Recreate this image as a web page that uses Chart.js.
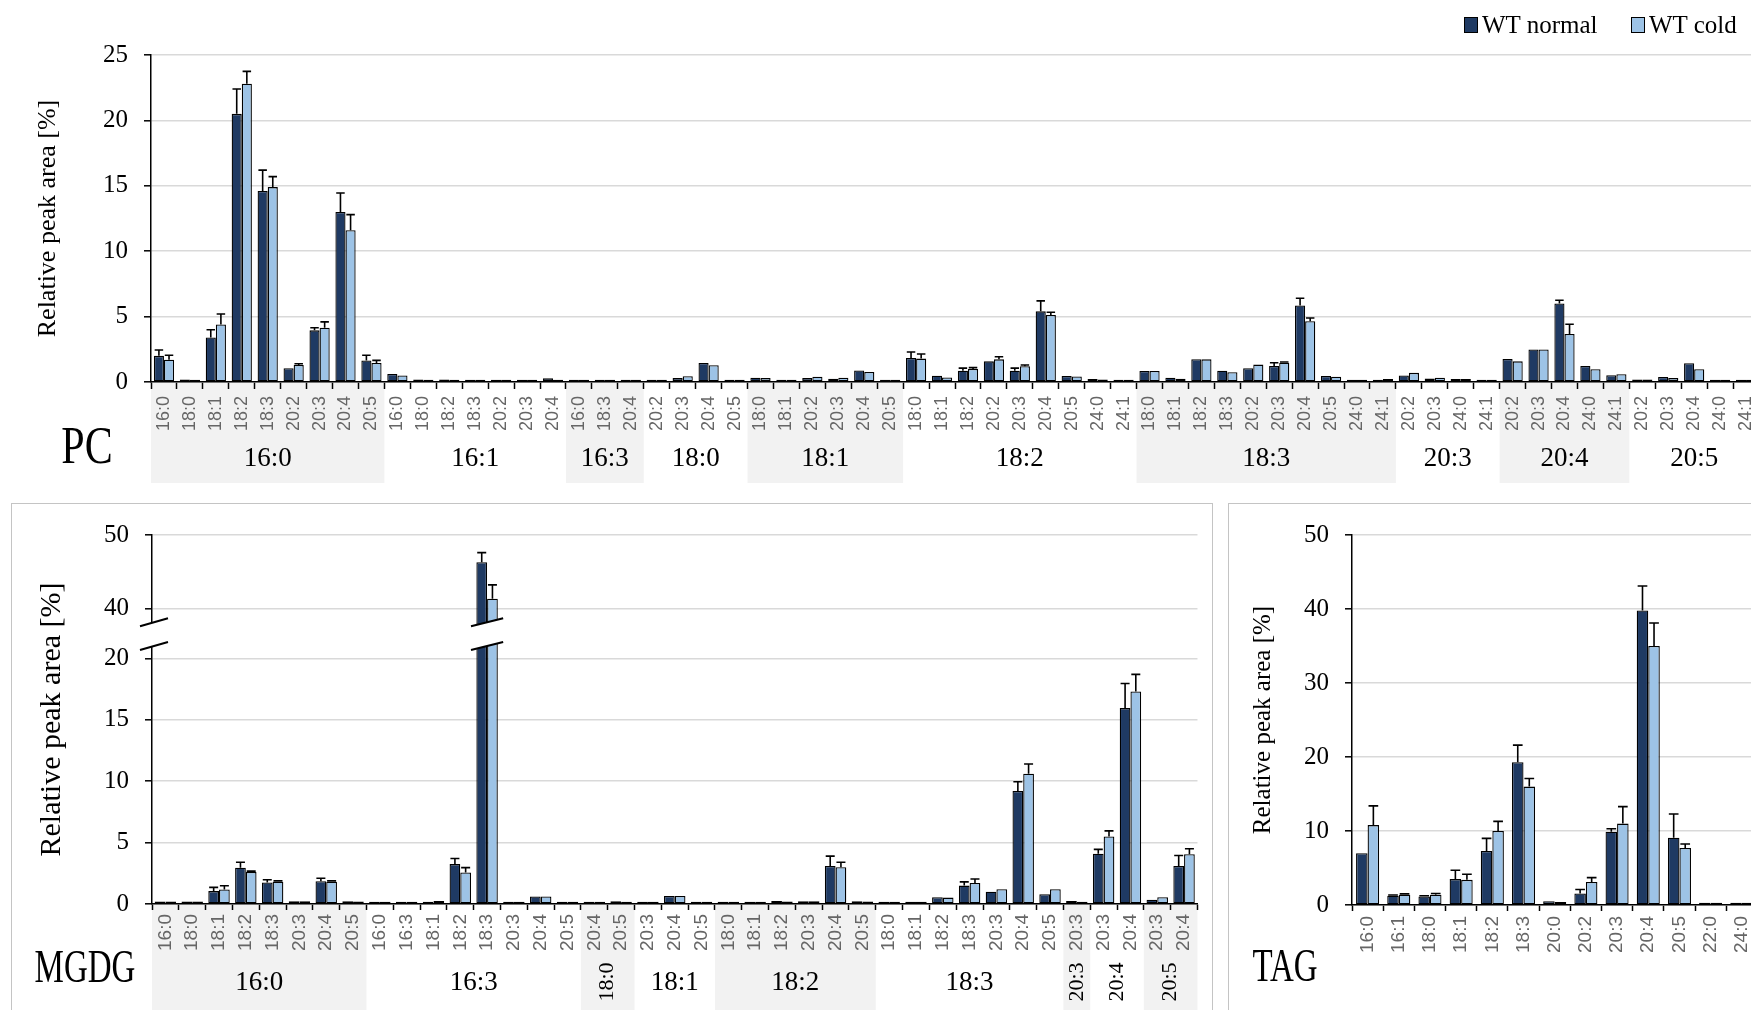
<!DOCTYPE html>
<html>
<head>
<meta charset="utf-8">
<title>Relative peak area – PC, MGDG, TAG</title>
<script src="https://cdn.jsdelivr.net/npm/chart.js@4.4.1/dist/chart.umd.min.js"></script>
<style>
  html, body { margin:0; padding:0; background:#fff; width:1751px; height:1010px; overflow:hidden; }
  .panel-box { position:absolute; border:1px solid #c4c4c4; box-sizing:border-box; }
  .big { position:absolute; font-family:'Liberation Serif','Times New Roman',serif; line-height:1; white-space:nowrap; color:#000; }
  .leg-sw { position:absolute; width:14px; height:16px; border:1.5px solid #000; box-sizing:border-box; }
  .leg-tx { position:absolute; font-family:'Liberation Serif','Times New Roman',serif; font-size:25px; line-height:30px; color:#000; white-space:nowrap; }
  canvas { position:absolute; }
</style>
</head>
<body>
<div class="panel-box" style="left:11px;top:503px;width:1202px;height:600px;"></div>
<div class="panel-box" style="left:1228px;top:503px;width:600px;height:600px;"></div>
<canvas id="pc" width="1780" height="500" style="left:0;top:0;"></canvas>
<canvas id="mgdg" width="1199" height="506" style="left:12px;top:504px;"></canvas>
<canvas id="tag" width="540" height="506" style="left:1230px;top:504px;"></canvas>
<div class="leg-sw" style="left:1464px;top:17px;background:#1f3a63;"></div>
<div class="leg-tx" style="left:1482px;top:10px;">WT normal</div>
<div class="leg-sw" style="left:1631px;top:17px;background:#9dc3e6;"></div>
<div class="leg-tx" style="left:1649px;top:10px;">WT cold</div>
<div class="big" style="left:87px;top:446px;font-size:42px;transform:translate(-50%,-50%) scaleY(1.24);">PC</div>
<div class="big" style="left:85px;top:967px;font-size:33px;transform:translate(-50%,-50%) scaleY(1.4);">MGDG</div>
<div class="big" style="left:1285px;top:967px;font-size:33px;transform:translate(-50%,-50%) scaleY(1.38);">TAG</div>
<script>
// ---------------- DATA ----------------
const seriesNames = ['WT normal', 'WT cold'];

// PC
const pcGroups = ['16:0','16:1','16:3','18:0','18:1','18:2','18:3','20:3','20:4','20:5'];
const pcGroupSizes = [9,7,3,4,6,9,10,4,5,5];
const pcCategories = [
  '16:0','18:0','18:1','18:2','18:3','20:2','20:3','20:4','20:5',
  '16:0','18:0','18:2','18:3','20:2','20:3','20:4',
  '16:0','18:3','20:4',
  '20:2','20:3','20:4','20:5',
  '18:0','18:1','20:2','20:3','20:4','20:5',
  '18:0','18:1','18:2','20:2','20:3','20:4','20:5','24:0','24:1',
  '18:0','18:1','18:2','18:3','20:2','20:3','20:4','20:5','24:0','24:1',
  '20:2','20:3','24:0','24:1',
  '20:2','20:3','20:4','24:0','24:1',
  '20:2','20:3','20:4','24:0','24:1'];
const pcNormal = [
  2.0,0.2,3.4,20.5,14.6,1.05,3.95,13.0,1.65,
  0.62,0.2,0.2,0.18,0.18,0.18,0.28,
  0.18,0.18,0.18,
  0.18,0.3,1.45,0.18,
  0.33,0.18,0.3,0.24,0.88,0.18,
  1.84,0.48,0.86,1.58,0.86,5.4,0.46,0.22,0.18,
  0.84,0.32,1.74,0.86,1.05,1.22,5.85,0.46,0.18,0.18,
  0.5,0.26,0.22,0.18,
  1.76,2.48,6.0,1.22,0.52,
  0.2,0.38,1.43,0.18,0.18];
const pcNormalErr = [
  0.45,0,0.6,1.9,1.6,0,0.2,1.45,0.4,
  0,0,0,0,0,0,0,
  0,0,0,
  0,0,0,0,
  0,0,0,0,0,0,
  0.45,0,0.2,0,0.2,0.8,0,0,0,
  0,0,0,0,0,0.25,0.55,0,0,0,
  0,0,0,0,
  0,0,0.25,0,0,
  0,0,0,0,0];
const pcCold = [
  1.7,0.18,4.4,22.8,14.9,1.3,4.15,11.6,1.45,
  0.5,0.18,0.18,0.18,0.18,0.18,0.18,
  0.18,0.18,0.18,
  0.18,0.44,1.28,0.18,
  0.3,0.18,0.4,0.33,0.76,0.18,
  1.79,0.35,1.0,1.73,1.2,5.13,0.43,0.2,0.18,
  0.84,0.25,1.73,0.74,1.33,1.48,4.64,0.4,0.18,0.22,
  0.7,0.33,0.22,0.18,
  1.58,2.48,3.67,0.97,0.6,
  0.2,0.3,0.97,0.18,0.18];
const pcColdErr = [
  0.35,0,0.8,0.95,0.8,0.1,0.45,1.2,0.2,
  0,0,0,0,0,0,0,
  0,0,0,
  0,0,0,0,
  0,0,0,0,0,0,
  0.35,0,0.1,0.2,0.1,0.2,0,0,0,
  0,0,0,0,0,0.05,0.25,0,0,0,
  0,0,0,0,
  0,0,0.75,0,0,
  0,0,0,0,0];
const pcTicks = [0,5,10,15,20,25];

// MGDG
const mgdgGroups = ['16:0','16:3','18:0','18:1','18:2','18:3','20:3','20:4','20:5'];
const mgdgGroupSizes = [8,8,2,3,6,7,1,2,2];
const mgdgCategories = [
  '16:0','18:0','18:1','18:2','18:3','20:3','20:4','20:5',
  '16:0','16:3','18:1','18:2','18:3','20:3','20:4','20:5',
  '20:4','20:5',
  '20:3','20:4','20:5',
  '18:0','18:1','18:2','20:3','20:4','20:5',
  '18:0','18:1','18:2','18:3','20:3','20:4','20:5',
  '20:3',
  '20:3','20:4',
  '20:3','20:4'];
const mgdgNormal = [
  0.2,0.2,1.05,2.95,1.75,0.22,1.85,0.22,
  0.18,0.18,0.18,3.25,46.3,0.18,0.62,0.18,
  0.18,0.22,
  0.18,0.65,0.18,
  0.18,0.18,0.24,0.22,3.1,0.22,
  0.18,0.18,0.55,1.5,1.0,9.2,0.8,
  0.24,
  4.1,15.95,
  0.35,3.1];
const mgdgNormalErr = [
  0,0,0.3,0.45,0.22,0,0.25,0,
  0,0,0,0.45,1.3,0,0,0,
  0,0,
  0,0,0,
  0,0,0,0,0.8,0,
  0,0,0,0.3,0,0.75,0,
  0,
  0.35,2.0,
  0,0.85];
const mgdgCold = [
  0.2,0.2,1.18,2.6,1.82,0.22,1.82,0.2,
  0.18,0.18,0.24,2.56,41.3,0.18,0.62,0.18,
  0.18,0.18,
  0.18,0.65,0.18,
  0.18,0.18,0.2,0.22,3.0,0.2,
  0.18,0.18,0.52,1.72,1.2,10.6,1.2,
  0.18,
  5.5,17.3,
  0.55,4.05];
const mgdgColdErr = [
  0,0,0.3,0.08,0.06,0,0.06,0,
  0,0,0,0.4,1.9,0,0,0,
  0,0,
  0,0,0,
  0,0,0,0,0.4,0,
  0,0,0,0.32,0,0.8,0,
  0,
  0.45,1.4,
  0,0.45];
const mgdgTicks = [0,5,10,15,20,40,50];

// TAG
const tagCategories = ['16:0','16:1','18:0','18:1','18:2','18:3','20:0','20:2','20:3','20:4','20:5','22:0','24:0'];
const tagNormal    = [7.0,1.25,1.15,3.5,7.3,19.3,0.5,1.55,9.9,39.8,9.1,0.3,0.3];
const tagNormalErr = [0,0.1,0.1,1.2,1.7,2.3,0,0.55,0.4,3.3,3.2,0,0];
const tagCold      = [10.8,1.4,1.4,3.4,10.0,16.0,0.4,3.1,11.0,35.0,7.7,0.3,0.3];
const tagColdErr   = [2.6,0.1,0.15,0.75,1.3,1.1,0,0.6,2.3,3.1,0.55,0,0];
const tagTicks = [0,10,20,30,40,50];

// ---------------- STYLE ----------------
const SERIF = "'Liberation Serif', 'Times New Roman', serif";
const SANS = "'Liberation Sans', Arial, sans-serif";
const DARK = '#1f3a63';
const LIGHT = '#9dc3e6';

// ---------------- BROKEN AXIS SCALE (MGDG) ----------------
const BREAK_LOW = 21.0, BREAK_HIGH = 38.1, BREAK_GAP = 1.94, UPPER_RATIO = 0.597;
function fwd(v) {
  if (v <= BREAK_LOW) return v;
  if (v >= BREAK_HIGH) return BREAK_LOW + BREAK_GAP + (v - BREAK_HIGH) * UPPER_RATIO;
  return BREAK_LOW + (v - BREAK_LOW) / (BREAK_HIGH - BREAK_LOW) * BREAK_GAP;
}
function inv(t) {
  if (t <= BREAK_LOW) return t;
  if (t >= BREAK_LOW + BREAK_GAP) return BREAK_HIGH + (t - BREAK_LOW - BREAK_GAP) / UPPER_RATIO;
  return BREAK_LOW + (t - BREAK_LOW) / BREAK_GAP * (BREAK_HIGH - BREAK_LOW);
}
class BrokenLinearScale extends Chart.LinearScale {
  getPixelForValue(value) {
    const t0 = fwd(this.min), t1 = fwd(this.max);
    return this.getPixelForDecimal((fwd(value) - t0) / (t1 - t0));
  }
  getValueForPixel(pixel) {
    const t0 = fwd(this.min), t1 = fwd(this.max);
    return inv(t0 + this.getDecimalForPixel(pixel) * (t1 - t0));
  }
}
BrokenLinearScale.id = 'brokenLinear';
BrokenLinearScale.defaults = Chart.LinearScale.defaults;
Chart.register(BrokenLinearScale);

// ---------------- PLUGINS ----------------
const errorBars = {
  id: 'errorBars',
  afterDatasetsDraw(chart) {
    const ctx = chart.ctx;
    ctx.save();
    ctx.strokeStyle = '#000';
    ctx.lineWidth = 1.6;
    chart.data.datasets.forEach((ds, i) => {
      const meta = chart.getDatasetMeta(i);
      const ys = chart.scales[meta.yAxisID];
      meta.data.forEach((bar, j) => {
        const e = ds.errors ? ds.errors[j] : 0;
        if (!e) return;
        const top = ys.getPixelForValue(ds.data[j] + e);
        const half = bar.width * 0.42;
        ctx.beginPath();
        ctx.moveTo(bar.x, bar.y);
        ctx.lineTo(bar.x, top);
        ctx.moveTo(bar.x - half, top);
        ctx.lineTo(bar.x + half, top);
        ctx.stroke();
      });
    });
    ctx.restore();
  }
};

function groupBands(groups, sizes, o) {
  return {
    id: 'groupBands',
    beforeDraw(chart) {
      const xs = chart.scales.x, ctx = chart.ctx;
      const w = (xs.right - xs.left) / chart.data.labels.length;
      let i0 = 0;
      ctx.save();
      ctx.fillStyle = '#f2f2f2';
      groups.forEach((g, gi) => {
        if (gi % 2 === 0) {
          ctx.fillRect(xs.left + i0 * w, xs.top + 1, sizes[gi] * w, o.bandBottom - xs.top - 1);
        }
        i0 += sizes[gi];
      });
      ctx.restore();
    },
    afterDraw(chart) {
      const xs = chart.scales.x, ctx = chart.ctx;
      const w = (xs.right - xs.left) / chart.data.labels.length;
      let i0 = 0;
      ctx.save();
      ctx.fillStyle = '#000';
      ctx.textAlign = 'center';
      ctx.textBaseline = 'middle';
      groups.forEach((g, gi) => {
        const cx = xs.left + (i0 + sizes[gi] / 2) * w;
        if (o.vertical && sizes[gi] <= 2) {
          ctx.save();
          ctx.translate(cx, o.vY);
          ctx.rotate(-Math.PI / 2);
          ctx.font = o.vSize + 'px ' + SERIF;
          ctx.fillText(g, 0, 0);
          ctx.restore();
        } else {
          ctx.font = o.size + 'px ' + SERIF;
          ctx.fillText(g, cx, o.labelY);
        }
        i0 += sizes[gi];
      });
      ctx.restore();
    }
  };
}

const axisBreak = {
  id: 'axisBreak',
  afterDatasetsDraw(chart) {
    const ys = chart.scales.y, xs = chart.scales.x, ctx = chart.ctx;
    const yLo = ys.getPixelForValue(BREAK_LOW);
    const yHi = ys.getPixelForValue(BREAK_HIGH);
    const rise = 8;
    const cut = (xl, xr) => {
      ctx.fillStyle = '#fff';
      ctx.beginPath();
      ctx.moveTo(xl, yLo + rise / 2);
      ctx.lineTo(xr, yLo - rise / 2);
      ctx.lineTo(xr, yHi - rise / 2);
      ctx.lineTo(xl, yHi + rise / 2);
      ctx.closePath();
      ctx.fill();
      ctx.strokeStyle = '#000';
      ctx.lineWidth = 2;
      ctx.beginPath();
      ctx.moveTo(xl, yLo + rise / 2); ctx.lineTo(xr, yLo - rise / 2);
      ctx.moveTo(xl, yHi + rise / 2); ctx.lineTo(xr, yHi - rise / 2);
      ctx.stroke();
    };
    ctx.save();
    cut(xs.left - 12, xs.left + 16);
    const w = (xs.right - xs.left) / chart.data.labels.length;
    chart.data.labels.forEach((lab, j) => {
      const vmax = Math.max(...chart.data.datasets.map(ds => ds.data[j]));
      if (vmax > BREAK_HIGH) {
        const cx = xs.getPixelForValue(j);
        cut(cx - 0.6 * w, cx + 0.6 * w);
      }
    });
    ctx.restore();
  }
};

// ---------------- CHART BUILDER ----------------
function buildChart(id, p) {
  const yScale = {
    type: p.yType || 'linear',
    min: p.ticks[0],
    max: p.ticks[p.ticks.length - 1],
    afterBuildTicks: s => { s.ticks = p.ticks.map(v => ({ value: v })); },
    ticks: { padding: 16, color: '#000', font: { family: SERIF, size: 25 } },
    grid: { color: '#d9d9d9', lineWidth: 1.6, tickColor: '#000', tickLength: 7, tickWidth: 1.5, z: -1 },
    border: { color: '#000', width: 1.5 },
    title: { display: true, text: 'Relative peak area [%]', color: '#000',
             font: { family: SERIF, size: p.titleSize }, padding: { top: p.titlePad, bottom: 0 } },
    afterFit: s => { s.width = p.axisW; }
  };
  return new Chart(document.getElementById(id), {
    type: 'bar',
    data: {
      labels: p.categories,
      datasets: [
        { label: seriesNames[0], data: p.normal, errors: p.normalErr, backgroundColor: DARK,
          borderColor: '#000', borderWidth: 1.3, borderSkipped: false,
          categoryPercentage: p.catPct, barPercentage: 1 },
        { label: seriesNames[1], data: p.cold, errors: p.coldErr, backgroundColor: LIGHT,
          borderColor: '#000', borderWidth: 1.3, borderSkipped: false,
          categoryPercentage: p.catPct, barPercentage: 1 }
      ]
    },
    options: {
      responsive: false,
      animation: false,
      devicePixelRatio: 1,
      layout: { padding: { top: p.top, right: p.right, bottom: 0, left: 0 } },
      plugins: { legend: { display: false }, tooltip: { enabled: false } },
      scales: {
        x: {
          type: 'category',
          offset: true,
          grid: { display: true, drawOnChartArea: false, drawTicks: true, offset: true,
                  tickLength: p.xTickLen, tickColor: '#000', tickWidth: 1.5 },
          border: { color: '#000', width: 1.5 },
          ticks: { autoSkip: false, minRotation: 90, maxRotation: 90, padding: p.xPad,
                   color: '#666', font: { family: SANS, size: p.xFont } },
          afterFit: s => { s.height = p.xH; }
        },
        y: yScale
      }
    },
    plugins: p.plugins
  });
}

buildChart('pc', {
  categories: pcCategories, normal: pcNormal, normalErr: pcNormalErr, cold: pcCold, coldErr: pcColdErr,
  ticks: pcTicks, top: 55, right: 21, axisW: 151, xH: 118, catPct: 0.78,
  titleSize: 26, titlePad: 33, xFont: 18, xTickLen: 7, xPad: 7,
  plugins: [groupBands(pcGroups, pcGroupSizes, { bandBottom: 483, labelY: 459, size: 27 }), errorBars]
});

buildChart('mgdg', {
  categories: mgdgCategories, normal: mgdgNormal, normalErr: mgdgNormalErr, cold: mgdgCold, coldErr: mgdgColdErr,
  ticks: mgdgTicks, yType: 'brokenLinear', top: 29, right: 11, axisW: 140, xH: 106, catPct: 0.8,
  titleSize: 30, titlePad: 22, xFont: 19, xTickLen: 6, xPad: 4,
  plugins: [groupBands(mgdgGroups, mgdgGroupSizes, { bandBottom: 506, labelY: 479, size: 27, vertical: true, vY: 478, vSize: 22 }), errorBars, axisBreak]
});

buildChart('tag', {
  categories: tagCategories, normal: tagNormal, normalErr: tagNormalErr, cold: tagCold, coldErr: tagColdErr,
  ticks: tagTicks, top: 24, right: 10, axisW: 122, xH: 105, catPct: 0.74,
  titleSize: 25, titlePad: 18, xFont: 19, xTickLen: 6, xPad: 5,
  plugins: [errorBars]
});
</script>
</body>
</html>
